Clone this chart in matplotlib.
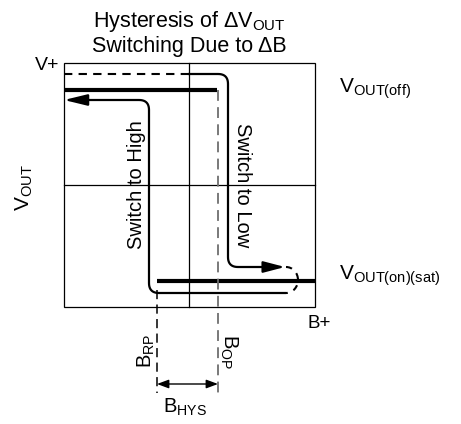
import numpy as np
import matplotlib
matplotlib.use("Agg")
import matplotlib.pyplot as plt
from matplotlib.patches import Rectangle, Arc

plt.rcParams['font.family'] = ['Liberation Sans', 'DejaVu Sans']

# diagram geometry (pixel space of the 461x424 picture)
box_x = [64, 315]
box_y = [63, 307]
mid_x = 189
mid_y = 185

# switch-to-low path: dashed start, then solid with rounded corners
low_dash_x = [64, 189]
low_dash_y = [74, 74]
low_x = [189, 228, 228, 285]
low_y = [74, 74, 267, 267]

# switch-to-high path
high_x = [285, 149, 149, 64]
high_y = [293, 293, 100, 100]

# output levels (thick)
off_x = [64, 217]
off_y = [90, 90]
on_x = [157, 315]
on_y = [281, 281]

# thresholds
b_rp = 157
b_op = 218
thr_y = [290, 393]
hys_y = 384


def rounded(xs, ys, r=10, n=12):
    pts = np.column_stack([xs, ys]).astype(float)
    out = [pts[0]]
    for i in range(1, len(pts) - 1):
        p = pts[i]
        u = (pts[i - 1] - p) / np.linalg.norm(pts[i - 1] - p)
        v = (pts[i + 1] - p) / np.linalg.norm(pts[i + 1] - p)
        a = p + u * r
        b = p + v * r
        t = np.linspace(0, 1, n)[:, None]
        out.extend((1 - t) ** 2 * a + 2 * (1 - t) * t * p + t ** 2 * b)
    out.append(pts[-1])
    out = np.array(out)
    return out[:, 0], out[:, 1]


def arrow_head(x, y, dx, length):
    # filled head at the end of a path
    ax.annotate('', xy=(x, y), xytext=(x + dx, y),
                arrowprops=dict(arrowstyle='-|>,head_length=%g,head_width=3.4' % length,
                                mutation_scale=1, lw=1.6, color='black',
                                shrinkA=0, shrinkB=0))


fig = plt.figure(figsize=(4.61, 4.24), dpi=100)
ax = fig.add_axes([0, 0, 1, 1])
ax.set_xlim(0, 461)
ax.set_ylim(424, 0)
ax.axis('off')

# frame and quadrant lines
ax.add_patch(Rectangle((box_x[0], box_y[0]), box_x[1] - box_x[0], box_y[1] - box_y[0],
                       fill=False, lw=0.9, ec='black'))
ax.plot([mid_x, mid_x], box_y, color='black', lw=0.9)
ax.plot(box_x, [mid_y, mid_y], color='black', lw=0.9)

# thick output levels
ax.plot(off_x, off_y, color='black', lw=3, solid_capstyle='butt')
ax.plot(on_x, on_y, color='black', lw=3, solid_capstyle='butt')

# threshold markers
ax.plot([b_op, b_op], [off_y[0], thr_y[1]], color='#6e6e6e', lw=1.3, dashes=(6, 3.5))
ax.plot([b_rp, b_rp], thr_y, color='black', lw=1.1, dashes=(6, 3.5))
ax.annotate('', xy=(b_rp, hys_y), xytext=(b_op, hys_y),
            arrowprops=dict(arrowstyle='<|-|>,head_length=7,head_width=2.6',
                            mutation_scale=1, lw=1, color='black',
                            shrinkA=0, shrinkB=0))

# switch to low
ax.plot(low_dash_x, low_dash_y, color='black', lw=1.5, dashes=(4, 3))
lx, ly = rounded(low_x, low_y)
ax.plot(lx[:-1].tolist() + [lx[-1] - 10], ly.tolist(), color='black', lw=1.6)
arrow_head(lx[-1], ly[-1], -20, 13)
ax.add_patch(Arc((286, 280), 24, 26, theta1=-90, theta2=90,
                 lw=1.5, color='black', ls=(0, (3, 3))))

# switch to high
hx, hy = rounded(high_x, high_y)
ax.plot(hx[:-1].tolist() + [hx[-1] + 10], hy.tolist(), color='black', lw=1.6)
arrow_head(hx[-1], hy[-1], 22, 14)

# texts
ax.text(189, 27, 'Hysteresis of Δ$\\mathregular{V_{OUT}}$', fontsize=15.5,
        ha='center', va='baseline')
ax.text(189, 52, 'Switching Due to ΔB', fontsize=15.5, ha='center', va='baseline')
ax.text(35, 70, 'V+', fontsize=14, ha='left', va='baseline')
ax.text(307, 328, 'B+', fontsize=13.5, ha='left', va='baseline')
ax.text(24, 188, '$\\mathregular{V_{OUT}}$', fontsize=15, rotation=90,
        ha='center', va='center')
ax.text(339, 93, '$\\mathregular{V_{OUT(off)}}$', fontsize=15, ha='left', va='baseline')
ax.text(339, 280, '$\\mathregular{V_{OUT(on)(sat)}}$', fontsize=15, ha='left', va='baseline')
ax.text(136, 185, 'Switch to High', fontsize=14.5, rotation=90, ha='center', va='center')
ax.text(242, 185, 'Switch to Low', fontsize=14.5, rotation=270, ha='center', va='center')
ax.text(146, 351, '$\\mathregular{B_{RP}}$', fontsize=14.5, rotation=90, ha='center', va='center')
ax.text(229, 352, '$\\mathregular{B_{OP}}$', fontsize=14.5, rotation=270, ha='center', va='center')
ax.text(163, 413, '$\\mathregular{B_{HYS}}$', fontsize=14.5, ha='left', va='baseline')

fig.savefig('out.png', dpi=100)
